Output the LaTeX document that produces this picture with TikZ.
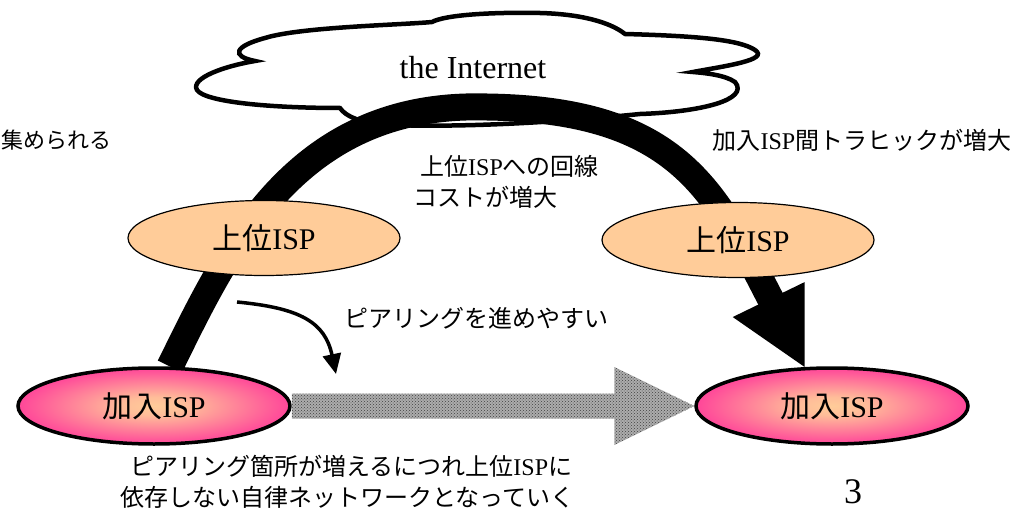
\documentclass[tikz,border=0pt]{standalone}
\usepackage{fontspec}
\setmainfont{Liberation Serif}
\newfontfamily\jp{Noto Sans CJK JP}
\usetikzlibrary{calc,backgrounds,shapes.geometric,patterns,arrows.meta}
\definecolor{peach}{HTML}{FFCC99}
\definecolor{hotpink}{HTML}{FF3399}
\definecolor{deeppink}{HTML}{FF1A8C}
\pgfdeclareradialshading{subshade}{\pgfpoint{0bp}{0bp}}{color(0bp)=(peach); color(6bp)=(peach!90!hotpink); color(28bp)=(hotpink); color(50bp)=(deeppink)}

\begin{document}
\begin{tikzpicture}[x=1pt,y=-1pt,
    upbox/.style={ellipse,draw,line width=1.2pt,fill=peach,minimum width=272pt,minimum height=75pt,inner sep=0pt,font=\fontsize{30}{30}\selectfont},
    subbox/.style={ellipse,draw,line width=3.5pt,shading=subshade,minimum width=272pt,minimum height=76pt,inner sep=0pt,font=\fontsize{30}{30}\selectfont},
    lbl/.style={inner sep=0pt,font=\fontsize{24}{24}\selectfont}]
    \useasboundingbox (0,0) rectangle (1034,511);
    \node[upbox] (upL) at (264,238) {{\jp 上位}ISP};
    \node[upbox] (upR) at (738,240) {{\jp 上位}ISP};
    \node[subbox] (subL) at (154,406) {{\jp 加入}ISP};
    \node[subbox] (subR) at (832,406) {{\jp 加入}ISP};
    \node[font=\fontsize{32}{32}\selectfont] (net) at (473,68) {the Internet};
    % texts
    \node[lbl,anchor=east,font=\fontsize{22}{22}\selectfont] (gather) at (112,140) {\jp 集められる};
    \node[lbl] (traffic) at (862,140) {{\jp 加入}ISP{\jp 間トラヒックが増大}};
    \node[lbl,anchor=west] (cost1) at (420,166) {{\jp 上位}ISP{\jp への回線}};
    \node[lbl,anchor=west] (cost2) at (413,197) {\jp コストが増大};
    \node[lbl] (peer) at (476,318) {\jp ピアリングを進めやすい};
    \node[lbl,anchor=west] (auto1) at (130,466) {{\jp ピアリング箇所が増えるにつれ上位}ISP{\jp に}};
    \node[lbl,anchor=west] (auto2) at (120,497) {\jp 依存しない自律ネットワークとなっていく};
    \node[font=\fontsize{36}{36}\selectfont] (page) at (853,492) {3};
    % peering arrow
    \fill[gray!65, postaction={pattern=crosshatch dots, pattern color=black!75}] ($(subL.east)+(0,-12.5)$) -- ($(subR.west)+(-80,-12.5)$) -- ($(subR.west)+(-80,-39)$) -- (subR.west) -- ($(subR.west)+(-80,39)$) -- ($(subR.west)+(-80,12.5)$) -- ($(subL.east)+(0,12.5)$) -- cycle;
    \coordinate (pa) at (237,302);
    \coordinate (pb) at (336,374);
    \draw[line width=3.5pt,-{Triangle[length=20pt,width=18pt]}] (pa) .. controls (300,308) and (325,322) .. (pb);
    \begin{scope}[on background layer]
        % cloud
        \draw[line width=4.5pt,fill=white] (197,90) .. controls (205,102) and (270,108) .. (340,108)
            .. controls (345,116) and (362,124) .. (390,125)
            .. controls (480,128) and (580,120) .. (640,114)
            .. controls (700,112) and (750,100) .. (735,82)
            .. controls (725,75) and (705,73) .. (693,72)
            .. controls (725,66) and (770,60) .. (755,50)
            .. controls (740,40) and (700,36) .. (625,34)
            .. controls (610,22) and (580,14) .. (540,13)
            .. controls (490,12) and (445,15) .. (432,22)
            .. controls (400,25) and (300,27) .. (265,38)
            .. controls (235,46) and (230,56) .. (255,61)
            .. controls (225,66) and (190,78) .. (197,90) -- cycle;
        % traffic to upper ISP
        \coordinate (tip) at (subR.125);
        \draw[line width=27pt] (subL.68) .. controls (225,255) and (290,112) .. (466,107)
            .. controls (680,104) and (714,190) .. ($(tip)+(-30,-60)$);
        \fill ($(tip)+(-72,-50)$) -- (tip) -- ($(tip)+(0,-85)$) -- cycle;
    \end{scope}
\end{tikzpicture}
\end{document}
